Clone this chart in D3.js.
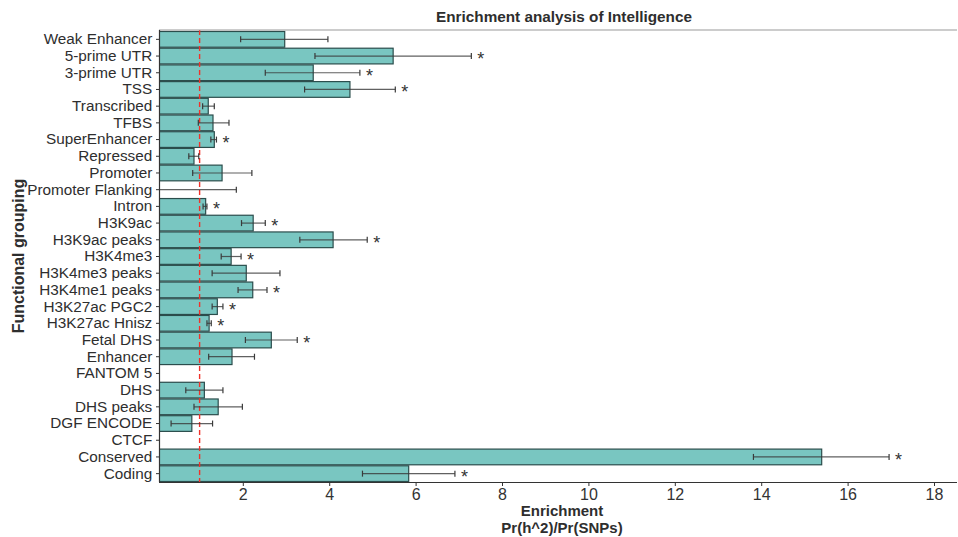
<!DOCTYPE html>
<html>
<head>
<meta charset="utf-8">
<script src="https://cdn.jsdelivr.net/npm/d3@7"></script>
<style>
body { margin: 0; background: #fff; }
text { font-family: "Liberation Sans", Arial, sans-serif; }
</style>
</head>
<body>
<svg></svg>
<script>
// categories top to bottom
const categories = ["Weak Enhancer", "5-prime UTR", "3-prime UTR", "TSS", "Transcribed", "TFBS",
	"SuperEnhancer", "Repressed", "Promoter", "Promoter Flanking", "Intron", "H3K9ac",
	"H3K9ac peaks", "H3K4me3", "H3K4me3 peaks", "H3K4me1 peaks", "H3K27ac PGC2", "H3K27ac Hnisz",
	"Fetal DHS", "Enhancer", "FANTOM 5", "DHS", "DHS peaks", "DGF ENCODE", "CTCF", "Conserved", "Coding"]
// enrichment, null = not shown
const enrichment = [2.97, 5.48, 3.63, 4.48, 1.20, 1.31, 1.34, 0.87, 1.52, -0.5, 1.14, 2.24,
	4.09, 1.73, 2.08, 2.23, 1.41, 1.22, 2.66, 1.75, null, 1.11, 1.43, 0.82, null, 15.40, 5.84]
const errLow = [1.95, 3.67, 2.52, 3.43, 1.07, 0.97, 1.26, 0.75, 0.84, -1.5, 1.08, 1.97,
	3.32, 1.50, 1.29, 1.89, 1.29, 1.17, 2.06, 1.21, null, 0.68, 0.87, 0.34, null, 13.82, 4.77]
const errHigh = [3.97, 7.29, 4.71, 5.53, 1.34, 1.68, 1.39, 0.98, 2.21, 1.85, 1.17, 2.52,
	4.88, 1.96, 2.86, 2.56, 1.54, 1.27, 3.26, 2.27, null, 1.54, 1.99, 1.30, null, 16.96, 6.91]
const significant = [false, true, true, true, false, false, true, false, false, false, true, true,
	true, true, false, true, true, true, true, false, false, false, false, false, false, true, true]
const xTicks = [2, 4, 6, 8, 10, 12, 14, 16, 18]

const data = categories.map((c, i) => ({
	name: c, value: enrichment[i], lo: errLow[i], hi: errHigh[i], star: significant[i]
}))

const svg = d3.select("svg")
	.attr("width", 958)
	.attr("height", 537)

const mLeft = 159, mRight = 957, mTop = 30, mBottom = 482

const scaleX = d3.scaleLinear()
	.domain([0.06, 18.5])
	.range([mLeft, mLeft + (18.5 - 0.06) * 43.2])

const scaleY = d3.scaleBand()
	.domain(categories)
	.range([mTop + 1, mBottom])
	.paddingInner(0.06)
	.paddingOuter(0.03)

svg.append("clipPath").attr("id", "panel")
	.append("rect")
	.attr("x", mLeft).attr("y", mTop)
	.attr("width", mRight - mLeft).attr("height", mBottom - mTop)

const panel = svg.append("g").attr("clip-path", "url(#panel)")

// bars
panel.selectAll("rect.bar")
	.data(data.filter(d => d.value !== null && d.value > 0))
	.enter()
	.append("rect")
	.attr("class", "bar")
	.attr("x", scaleX(0))
	.attr("y", d => scaleY(d.name))
	.attr("width", d => scaleX(d.value) - scaleX(0))
	.attr("height", scaleY.bandwidth())
	.attr("fill", "#79c6c1")
	.attr("stroke", "#2b4d4c")
	.attr("stroke-width", 1.2)

// reference line at 1
panel.append("line")
	.attr("x1", scaleX(1)).attr("x2", scaleX(1))
	.attr("y1", mTop).attr("y2", mBottom)
	.attr("stroke", "#f0322a")
	.attr("stroke-width", 1.4)
	.attr("stroke-dasharray", "5,3")

// error bars
const errs = panel.selectAll("g.err")
	.data(data.filter(d => d.lo !== null))
	.enter()
	.append("g")
	.attr("class", "err")
	.attr("transform", d => `translate(0,${scaleY(d.name) + scaleY.bandwidth() / 2})`)

errs.append("line")
	.attr("x1", d => scaleX(d.lo)).attr("x2", d => scaleX(d.hi))
	.attr("stroke", "#3a3a3a").attr("stroke-width", 1.2).attr("opacity", 0.8)
errs.append("line")
	.attr("x1", d => scaleX(d.lo)).attr("x2", d => scaleX(d.lo))
	.attr("y1", -3).attr("y2", 3)
	.attr("stroke", "#3a3a3a").attr("stroke-width", 1.2)
errs.append("line")
	.attr("x1", d => scaleX(d.hi)).attr("x2", d => scaleX(d.hi))
	.attr("y1", -3).attr("y2", 3)
	.attr("stroke", "#3a3a3a").attr("stroke-width", 1.2)

// stars
svg.selectAll("text.star")
	.data(data.filter(d => d.star))
	.enter()
	.append("text")
	.attr("class", "star")
	.attr("x", d => scaleX(d.hi) + 6)
	.attr("y", d => scaleY(d.name) + scaleY.bandwidth() / 2 + 9)
	.attr("font-size", 18)
	.attr("fill", "#333")
	.text("*")

// panel top line
svg.append("line")
	.attr("x1", mLeft).attr("x2", mRight)
	.attr("y1", mTop).attr("y2", mTop)
	.attr("stroke", "#999").attr("stroke-width", 1.2)

// axes
const xAxis = svg.append("g")
	.attr("transform", `translate(0,${mBottom})`)
	.call(d3.axisBottom(scaleX).tickValues(xTicks).tickSize(4).tickPadding(3).tickSizeOuter(0))
xAxis.select(".domain").attr("stroke", "#333").attr("stroke-width", 1.2)
	.attr("d", `M${mLeft},0.5H${mRight}`)
xAxis.selectAll(".tick line").attr("stroke", "#333")
xAxis.selectAll(".tick text").attr("font-size", 16).attr("fill", "#333")

const yAxis = svg.append("g")
	.attr("transform", `translate(${mLeft},0)`)
	.call(d3.axisLeft(scaleY).tickSize(3).tickSizeOuter(0))
yAxis.select(".domain").attr("stroke", "#333").attr("stroke-width", 1.2)
	.attr("d", `M0.5,${mTop}V${mBottom}`)
yAxis.selectAll(".tick line").attr("stroke", "#333")
yAxis.selectAll(".tick text").attr("font-size", 15.3).attr("fill", "#2e2e2e").attr("dx", "-0.05em")

// titles
svg.append("text")
	.attr("x", 564).attr("y", 22)
	.attr("text-anchor", "middle")
	.attr("font-size", 15.3).attr("font-weight", "bold").attr("fill", "#2e2e2e")
	.text("Enrichment analysis of Intelligence")

svg.append("text")
	.attr("x", 562).attr("y", 516)
	.attr("text-anchor", "middle")
	.attr("font-size", 15).attr("font-weight", "bold").attr("fill", "#2e2e2e")
	.text("Enrichment")
svg.append("text")
	.attr("x", 562).attr("y", 533)
	.attr("text-anchor", "middle")
	.attr("font-size", 15).attr("font-weight", "bold").attr("fill", "#2e2e2e")
	.text("Pr(h^2)/Pr(SNPs)")

svg.append("text")
	.attr("transform", `translate(24,${(mTop + mBottom) / 2}) rotate(-90)`)
	.attr("text-anchor", "middle")
	.attr("font-size", 16).attr("font-weight", "bold").attr("fill", "#2e2e2e")
	.text("Functional grouping")
</script>
</body>
</html>
